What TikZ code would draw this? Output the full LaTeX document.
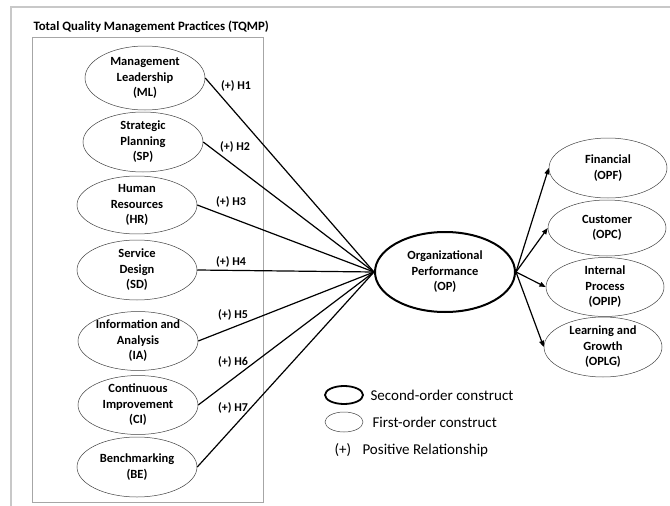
\documentclass[tikz,border=0pt]{standalone}
\usepackage{fontspec}
\setmainfont{Carlito}
\usetikzlibrary{arrows.meta,positioning,shapes.geometric}
\definecolor{framegrey}{HTML}{C8C8C8}
\definecolor{boxgrey}{HTML}{A6A6A6}

\begin{document}
\begin{tikzpicture}[
  x=1pt, y=-1pt,
  font=\fontsize{12.5}{15.5}\selectfont\bfseries,
  firstorder/.style={ellipse, draw=black!75, line width=0.5pt, align=center,
    minimum width=120pt, minimum height=60pt, inner sep=0pt},
  secondorder/.style={ellipse, draw=black, line width=2pt, align=center,
    minimum width=140pt, minimum height=80pt, inner sep=0pt},
  link/.style={line width=1.2pt, draw=black},
  arrow/.style={-{Triangle[length=2.2mm, width=1.7mm]}, line width=1.2pt, draw=black},
  hyp/.style={font=\fontsize{12}{13}\selectfont\bfseries},
  legendtext/.style={font=\fontsize{15}{17}\selectfont, anchor=west}
]
\useasboundingbox (0,0) rectangle (670,506);
\draw[framegrey, line width=2pt] (11,506) -- (11,7) -- (670,7);
\draw[boxgrey, line width=0.7pt] (32,37) rectangle (263,502);
\node[anchor=west, font=\fontsize{12.8}{15}\selectfont\bfseries] (tqmp) at (30,27)
  {Total Quality Management Practices (TQMP)};

% first-order TQM practices
\node[firstorder, minimum height=64pt] (ml) at (145,78) {Management\\Leadership\\(ML)};
\node[firstorder] (sp) at (143,142) {Strategic\\Planning\\(SP)};
\node[firstorder, minimum height=57pt] (hr) at (137,205) {Human\\Resources\\(HR)};
\node[firstorder] (sd) at (137,270) {Service\\Design\\(SD)};
\node[firstorder, minimum height=58pt] (ia) at (138,341) {Information and\\Analysis\\(IA)};
\node[firstorder, minimum height=57pt] (ci) at (138,405) {Continuous\\Improvement\\(CI)};
\node[firstorder] (be) at (137,467) {Benchmarking\\(BE)};

% second-order construct
\node[secondorder] (op) at (445,272) {Organizational\\Performance\\(OP)};

% performance dimensions
\node[firstorder, minimum width=118pt] (opf) at (608,168) {Financial\\(OPF)};
\node[firstorder, minimum width=118pt, minimum height=56pt] (opc) at (607,228) {Customer\\(OPC)};
\node[firstorder, minimum width=118pt, minimum height=54pt] (opip) at (605,287) {Internal\\Process\\(OPIP)};
\node[firstorder, minimum width=118pt] (oplg) at (603,347) {Learning and\\Growth\\(OPLG)};

\draw[link] (ml.east) -- (op.west);
\draw[link] (sp.east) -- (op.west);
\draw[link] (hr.east) -- (op.west);
\draw[link] (sd.east) -- (op.west);
\draw[link] (ia.east) -- (op.west);
\draw[link] (ci.east) -- (op.west);
\draw[link] (be.east) -- (op.west);

\node[hyp] (h1) at (236,86) {(+) H1};
\node[hyp] (h2) at (235,147) {(+) H2};
\node[hyp] (h3) at (231,202) {(+) H3};
\node[hyp] (h4) at (231,262) {(+) H4};
\node[hyp] (h5) at (233,315) {(+) H5};
\node[hyp] (h6) at (233,362) {(+) H6};
\node[hyp] (h7) at (233,408) {(+) H7};

\draw[arrow] (op.east) -- (opf.west);
\draw[arrow] (op.east) -- (opc.west);
\draw[arrow] (op.east) -- (opip.west);
\draw[arrow] (op.east) -- (oplg.west);

% legend
\node[ellipse, draw=black, line width=1.8pt, minimum width=38pt, minimum height=18pt, inner sep=0pt] (lg2) at (344,395) {};
\node[legendtext] (lg2t) at (367,395) {Second-order construct};
\node[ellipse, draw=black!75, line width=0.5pt, minimum width=38pt, minimum height=20pt, inner sep=0pt] (lg1) at (344,422) {};
\node[legendtext] (lg1t) at (369,422) {First-order construct};
\node[legendtext] (lgp) at (331,450) {(+)};
\node[legendtext] (lgpt) at (359,450) {Positive Relationship};
\end{tikzpicture}
\end{document}
